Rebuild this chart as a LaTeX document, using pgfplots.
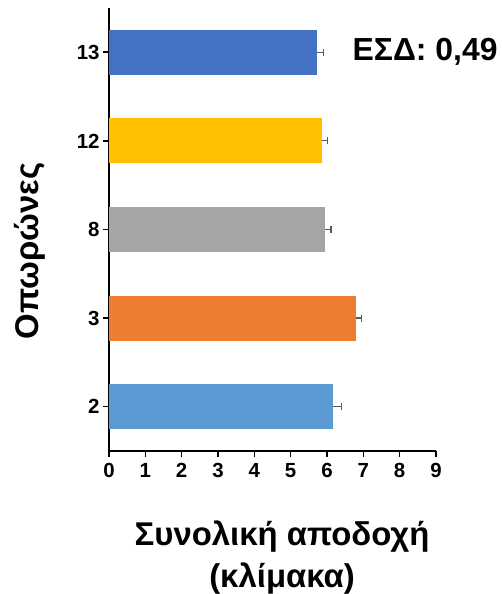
\documentclass[border=0pt]{standalone}
\usepackage{pgfplots}
\pgfplotsset{compat=1.18}
\usepackage{fontspec}
\setmainfont{Liberation Sans}

\definecolor{c13}{HTML}{4472C4}
\definecolor{c12}{HTML}{FFC000}
\definecolor{c8}{HTML}{A5A5A5}
\definecolor{c3}{HTML}{ED7D31}
\definecolor{c2}{HTML}{5B9BD5}
\definecolor{errgray}{HTML}{595959}

\begin{document}
\begin{tikzpicture}
\begin{axis}[
    name=ax,
    at={(0,0)}, anchor=south west,
    scale only axis,
    width=327bp, height=443bp,
    xbar, bar width=45bp, bar shift=0pt,
    xmin=0, xmax=9,
    ymin=-0.5, ymax=4.5,
    xtick={0,1,...,9},
    ytick={0,1,2,3,4},
    yticklabels={2,3,8,12,13},
    axis x line*=bottom, axis y line*=left,
    axis line style={black, line width=2.2bp},
    every tick/.style={black, line width=1.6bp},
    tick align=outside, tick pos=left,
    major tick length=6bp,
    /pgf/number format/assume math mode=true,
    tick label style={font=\fontsize{20.5}{23}\selectfont\bfseries},
    xticklabel style={yshift=-3bp},
    clip=false,
    error bars/x dir=plus,
    error bars/x explicit,
    error bars/error bar style={errgray, line width=1.2bp},
    error bars/error mark options={errgray, line width=1.2bp, rotate=90, mark size=3.5bp},
]
\addplot[draw=none, fill=c2] coordinates {(6.16,0) +- (0.23,0)};
\addplot[draw=none, fill=c3] coordinates {(6.80,1) +- (0.14,0)};
\addplot[draw=none, fill=c8] coordinates {(5.95,2) +- (0.16,0)};
\addplot[draw=none, fill=c12] coordinates {(5.86,3) +- (0.16,0)};
\addplot[draw=none, fill=c13] coordinates {(5.72,4) +- (0.18,0)};

\node[font=\fontsize{32}{36}\selectfont\bfseries, anchor=center] at (axis cs:8.7,4) {ΕΣΔ: 0,49};
\end{axis}
\node[font=\fontsize{33}{42}\selectfont\bfseries, align=center, anchor=base, inner sep=0pt] at (173bp,-136bp) {Συνολική αποδοχή\\(κλίμακα)};
\node[font=\fontsize{33}{36}\selectfont\bfseries, rotate=90, anchor=center] at (-79bp,200bp) {Οπωρώνες};
\pgfresetboundingbox
\path[use as bounding box] (-109bp,-143bp) rectangle (393bp,451bp);
\end{tikzpicture}
\end{document}
